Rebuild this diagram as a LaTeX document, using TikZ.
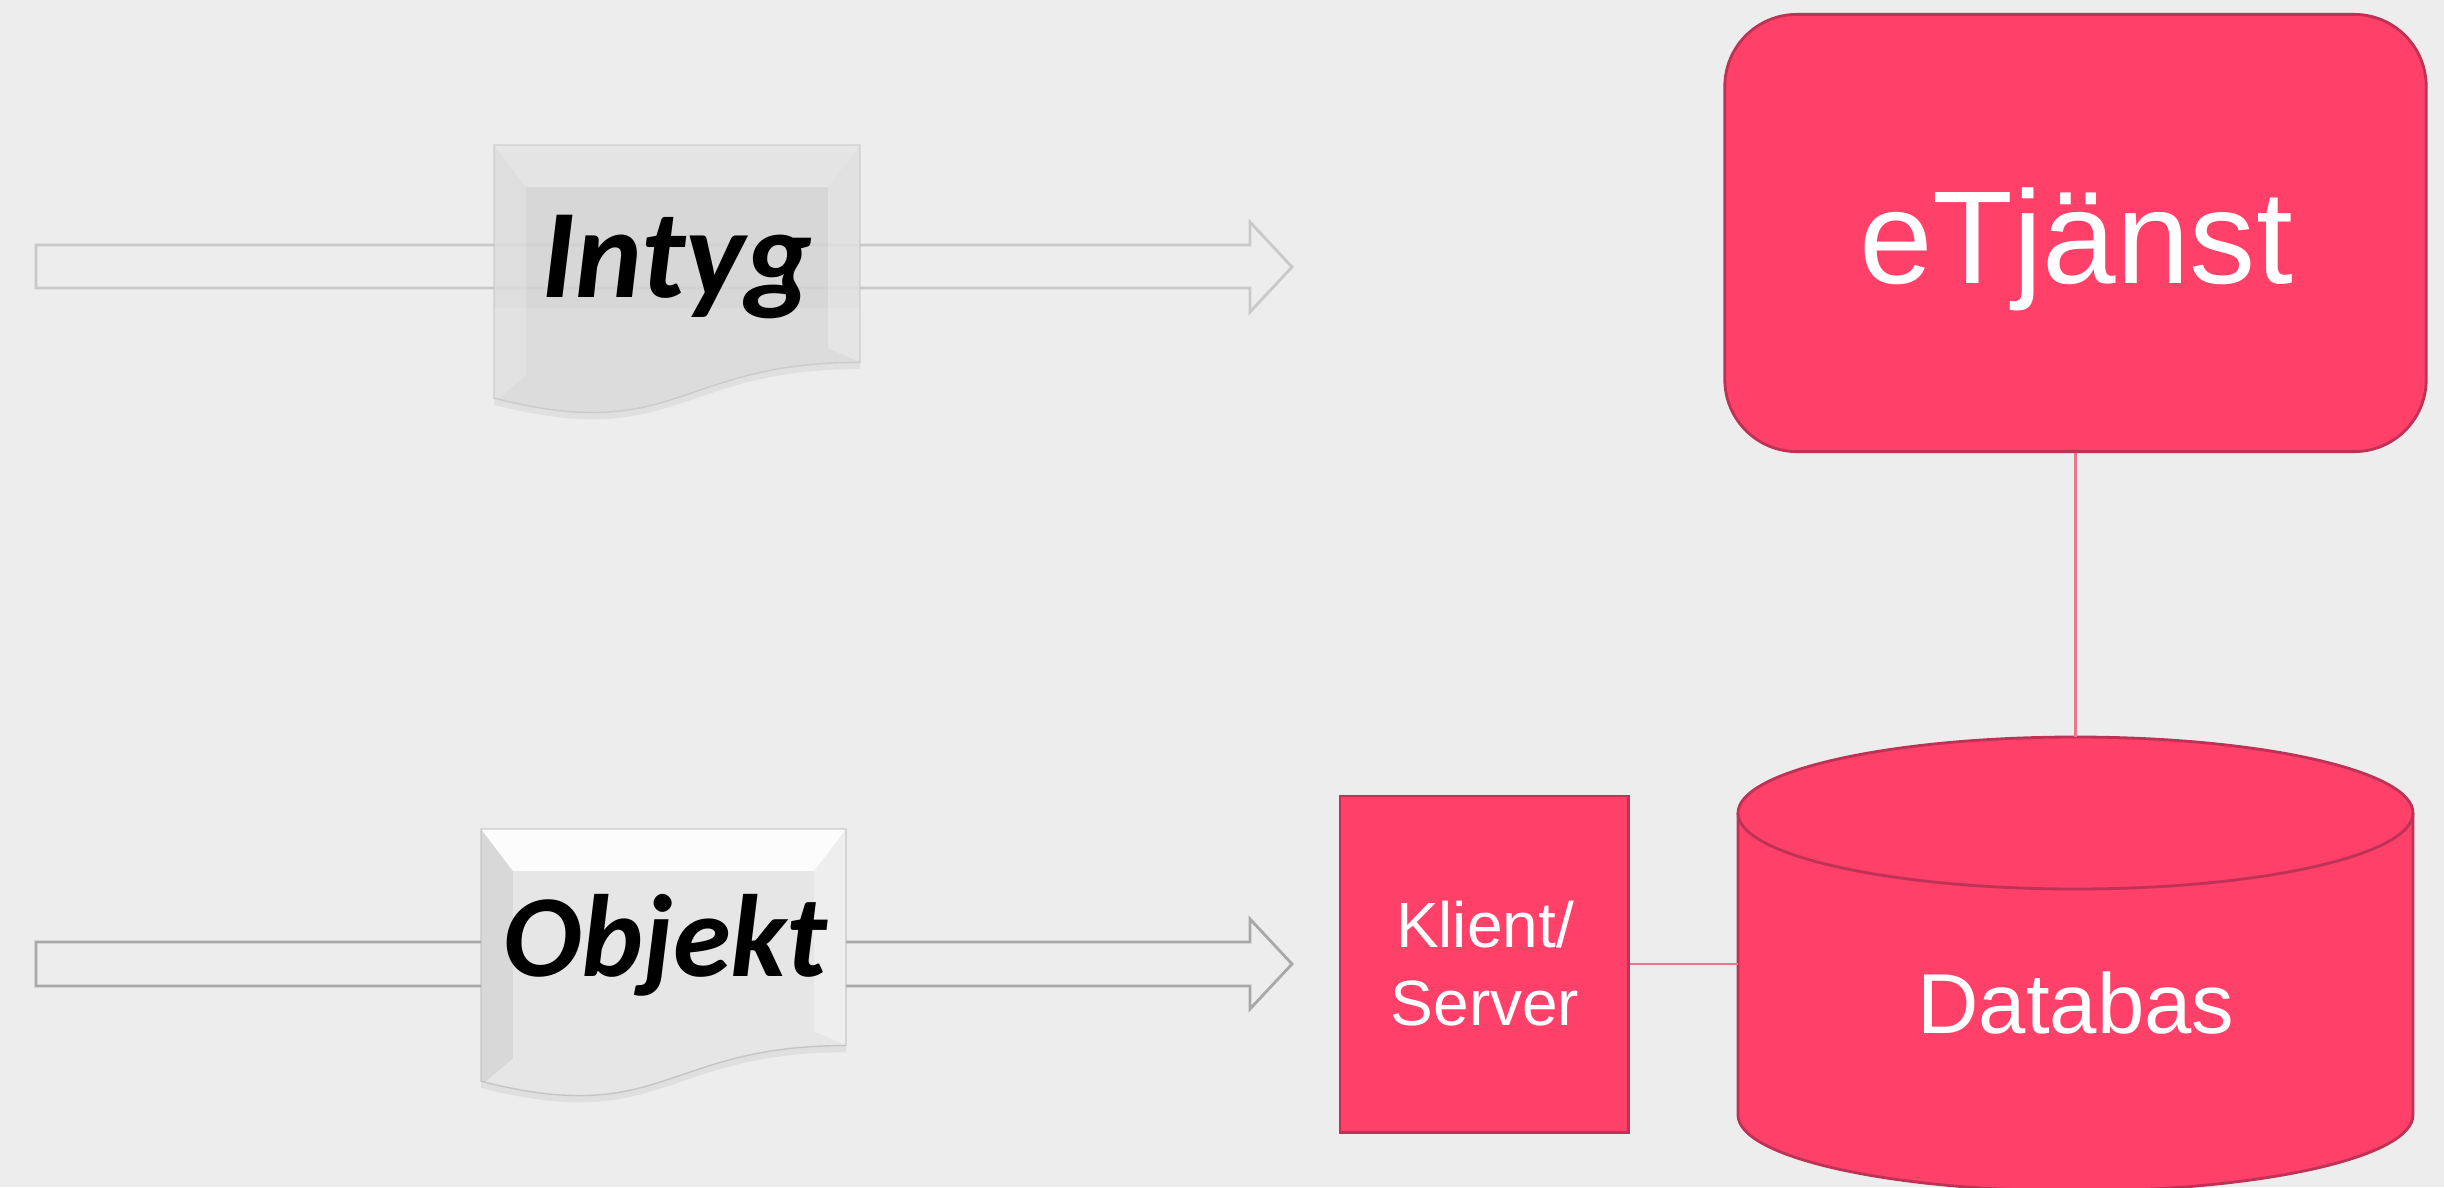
\documentclass[tikz,border=0pt]{standalone}
\usepackage{fontspec}
\setmainfont{Liberation Sans}
\newfontfamily\calib{Carlito}
\definecolor{bgc}{HTML}{EDEDED}
\definecolor{pinkfill}{HTML}{FF4068}
\definecolor{pinkedge}{HTML}{BE3355}
\definecolor{pinkline}{HTML}{EC7590}
\definecolor{arrowA}{HTML}{C9C9C9}
\definecolor{arrowB}{HTML}{A8A8A8}
\definecolor{docI}{HTML}{D6D6D6}
\definecolor{docO}{HTML}{E6E6E6}
\tikzset{
  docpath/.style={insert path={(0,0) -- (1,0) -- (1,0.802) .. controls (0.5,0.802) and (0.5,1.1075) .. (0,0.934) -- cycle}},
  pinkbox/.style={fill=pinkfill, draw=pinkedge, line width=0.8pt},
  conn/.style={draw=pinkline, line width=0.6pt},
  hollowarrow/.style={fill=bgc, line width=0.8pt},
  doclabel/.style={text=black, inner sep=0pt, anchor=base},
  whitelabel/.style={text=white, inner sep=0pt, anchor=base}
}
\begin{document}
\begin{tikzpicture}[x=0.01cm,y=-0.01cm]
\fill[bgc] (0,0) rectangle (2444,1187);
\useasboundingbox (0,0) rectangle (2444,1187);

% hollow arrows
\draw[hollowarrow, draw=arrowA] (36,245) -- (1250,245) -- (1250,222) -- (1292,267) -- (1250,312) -- (1250,288) -- (36,288) -- cycle;
\draw[hollowarrow, draw=arrowB] (36,942) -- (1250,942) -- (1250,919) -- (1292,964) -- (1250,1009) -- (1250,986) -- (36,986) -- cycle;

% document Intyg
\begin{scope}[shift={(494,145)},xscale=366,yscale=271]
  \fill[black,opacity=0.05,shift={(0,0.025)},docpath];
  \fill[docI,fill opacity=0.82,docpath];
  \begin{scope}
    \clip[docpath];
    \fill[white,opacity=0.35] (0,0) -- (1,0) -- (0.913,0.155) -- (0.087,0.155) -- cycle;
    \fill[white,opacity=0.18] (0,0) -- (0.087,0.155) -- (0.087,0.85) -- (0,0.95) -- cycle;
    \fill[white,opacity=0.25] (1,0) -- (0.913,0.155) -- (0.913,0.75) -- (1,0.8) -- cycle;
    \fill[white,opacity=0.15] (0,0.6) rectangle (1,1.2);
  \end{scope}
  \draw[black!25,line width=0.4pt,opacity=0.6,docpath];
\end{scope}
\node[doclabel, font=\calib\bfseries\itshape\fontsize{36.1}{40}\selectfont] (intyg) at (677,297) {Intyg};

% document Objekt
\begin{scope}[shift={(481,829)},xscale=365,yscale=270]
  \fill[black,opacity=0.06,shift={(0,0.025)},docpath];
  \fill[docO,docpath];
  \begin{scope}
    \clip[docpath];
    \fill[white,opacity=0.9] (0,0) -- (1,0) -- (0.913,0.155) -- (0.087,0.155) -- cycle;
    \fill[black,opacity=0.06] (0,0) -- (0.087,0.155) -- (0.087,0.85) -- (0,0.95) -- cycle;
    \fill[white,opacity=0.35] (1,0) -- (0.913,0.155) -- (0.913,0.75) -- (1,0.8) -- cycle;
  \end{scope}
  \draw[black!30,line width=0.4pt,opacity=0.6,docpath];
\end{scope}
\node[doclabel, font=\calib\bfseries\itshape\fontsize{33.3}{38}\selectfont] (objekt) at (665,976) {Objekt};

% eTjanst
\node[pinkbox, rounded corners=0.72cm, minimum width=7.01cm, minimum height=4.37cm, inner sep=0pt] (etj) at (2075.5,233) {};
\node[whitelabel, font=\fontsize{37.6}{44}\selectfont] (etjtext) at (2076,283) {eTjänst};

% Klient/Server
\node[pinkbox, minimum width=2.88cm, minimum height=3.36cm, inner sep=0pt] (ks) at (1484,964) {};
\node[text=white, align=center, inner sep=0pt, font=\fontsize{18.2}{22.2}\selectfont] (kstext) at (1485,964) {Klient/\\Server};

% Database cylinder
\fill[pinkfill] (1738,813) rectangle (2413,1115);
\fill[pinkfill] (2075.5,1115) ellipse [x radius=337.5, y radius=76];
\draw[pinkedge, line width=0.8pt] (1738,813) -- (1738,1115) arc[start angle=180, end angle=0, x radius=337.5, y radius=76] -- (2413,813);
\draw[pinkbox] (2075.5,813) ellipse [x radius=337.5, y radius=76];
\coordinate (dbtop) at (2075.5,737);
\coordinate (dbleft) at (1738,964);
\node[whitelabel, font=\fontsize{24.2}{29}\selectfont] (dbtext) at (2076,1033) {Databas};

% connectors
\draw[conn] (etj.south) -- (dbtop);
\draw[conn] (ks.east) -- (dbleft);
\end{tikzpicture}
\end{document}
